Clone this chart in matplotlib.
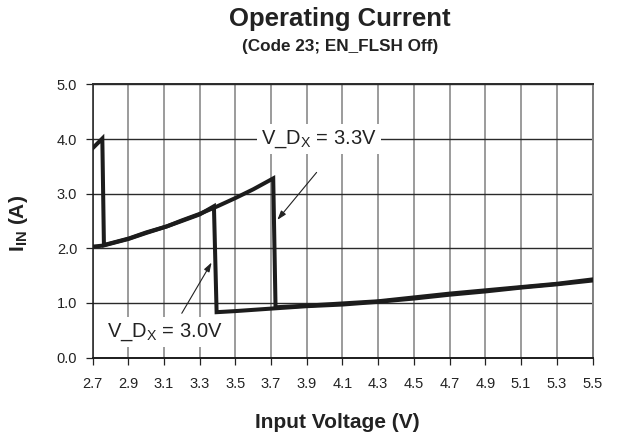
import matplotlib
matplotlib.use("Agg")
import matplotlib.pyplot as plt
import numpy as np

plt.rcParams['font.family'] = ['Liberation Sans', 'DejaVu Sans']
plt.rcParams['mathtext.fontset'] = 'custom'
plt.rcParams['mathtext.rm'] = 'Liberation Sans'
plt.rcParams['mathtext.bf'] = 'Liberation Sans:bold'

# Data
v30_x = [2.70, 2.76, 2.90, 3.00, 3.115, 3.20, 3.30, 3.38, 3.395, 3.50, 3.72, 3.90, 4.10, 4.30, 4.50, 4.70, 4.90, 5.10, 5.30, 5.50]
v30_y = [2.03, 2.05, 2.17, 2.28, 2.40, 2.50, 2.62, 2.77, 0.83, 0.85, 0.90, 0.94, 0.97, 1.02, 1.08, 1.15, 1.21, 1.28, 1.34, 1.41]

v33_x = [2.70, 2.755, 2.764, 2.904, 3.00, 3.115, 3.20, 3.30, 3.40, 3.50, 3.60, 3.712, 3.725, 3.90, 4.10, 4.30, 4.50, 4.70, 4.90, 5.10, 5.30, 5.50]
v33_y = [3.83, 4.01, 2.06, 2.18, 2.29, 2.40, 2.51, 2.63, 2.77, 2.92, 3.08, 3.28, 0.92, 0.95, 0.99, 1.03, 1.10, 1.17, 1.23, 1.29, 1.35, 1.43]

x_ticks = [2.7, 2.9, 3.1, 3.3, 3.5, 3.7, 3.9, 4.1, 4.3, 4.5, 4.7, 4.9, 5.1, 5.3, 5.5]
y_ticks = [0.0, 1.0, 2.0, 3.0, 4.0, 5.0]

W, H = 618, 436
fig = plt.figure(figsize=(W/100, H/100), dpi=100)
ax = fig.add_axes([92.5/W, 1-357.5/H, 500/W, 273/H])

ax.plot(v30_x, v30_y, color='#1c1c1c', lw=2.9, solid_joinstyle='miter', zorder=3)
ax.plot(v33_x, v33_y, color='#1c1c1c', lw=2.9, solid_joinstyle='miter', zorder=3)

ax.set_xlim(2.7, 5.5)
ax.set_ylim(0, 5)
ax.set_xticks(x_ticks)
ax.set_xticklabels([f"{t:.1f}" for t in x_ticks])
ax.set_yticks(y_ticks)
ax.set_yticklabels([f"{t:.1f}" for t in y_ticks])
ax.xaxis.grid(True, color='#808080', lw=1.1)
ax.yaxis.grid(True, color='#2a2a2a', lw=1.0)
ax.set_axisbelow(True)
ax.spines['top'].set_color('#2a2a2a'); ax.spines['top'].set_linewidth(1.4)
ax.spines['bottom'].set_color('#1c1c1c'); ax.spines['bottom'].set_linewidth(1.4)
ax.spines['left'].set_color('#1c1c1c'); ax.spines['left'].set_linewidth(1.1)
ax.spines['right'].set_color('#808080'); ax.spines['right'].set_linewidth(1.4)
ax.tick_params(axis='x', direction='out', length=5, width=0.9, pad=9, labelsize=10.5, colors='#222222')
ax.tick_params(axis='y', direction='out', length=5, width=0.9, pad=6, labelsize=10.5, colors='#222222')

fig.text(337/W, 1-422/H, 'Input Voltage (V)', ha='center', va='center', fontsize=15, fontweight='bold', color='#222222')
fig.text(19/W, 1-223/H, r'I$_\mathbf{IN}$ (A)', ha='center', va='center', rotation=90, fontsize=15, fontweight='bold', color='#222222')

fig.text(340/W, 1-19/H, 'Operating Current', ha='center', va='center', fontsize=18.5, fontweight='bold', color='#222222')
fig.text(340/W, 1-47/H, '(Code 23; EN_FLSH Off)', ha='center', va='center', fontsize=12.3, fontweight='bold', color='#222222')

bbox = dict(boxstyle='square,pad=0.22', fc='white', ec='none')
ax.text(3.968, 4.0, r'V_D$_\mathregular{X}$ = 3.3V', ha='center', va='center', fontsize=14.5, color='#222222', bbox=bbox, zorder=4)
ax.annotate('', xy=(3.735, 2.52), xytext=(3.955, 3.39),
            arrowprops=dict(arrowstyle='-|>,head_length=0.55,head_width=0.18', color='#222222', lw=0.8, shrinkA=0, shrinkB=0))
ax.text(3.106, 0.47, r'V_D$_\mathregular{X}$ = 3.0V', ha='center', va='center', fontsize=14.5, color='#222222', bbox=bbox, zorder=4)
ax.annotate('', xy=(3.367, 1.74), xytext=(3.20, 0.81),
            arrowprops=dict(arrowstyle='-|>,head_length=0.55,head_width=0.18', color='#222222', lw=0.8, shrinkA=0, shrinkB=0))

fig.savefig('out.png', dpi=100)
